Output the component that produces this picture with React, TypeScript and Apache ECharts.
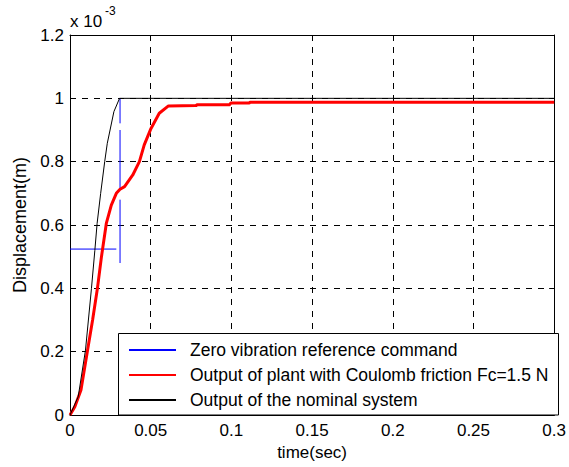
import React, { useEffect, useRef } from "react";
import * as echarts from "echarts";

const xTicks = { min: 0, max: 0.3, interval: 0.05 };
const yTicks = { min: 0, max: 1.2, interval: 0.2 };

const seriesNames = [
  "Zero vibration reference command",
  "Output of plant with Coulomb friction Fc=1.5 N",
  "Output of the nominal system",
];

// blue reference command segments (visible parts)
const blueH = [[0, 0.524], [0.0287, 0.524]];
const blueV1 = [[0.031, 0.48], [0.031, 0.68]];
const blueV2 = [[0.031, 0.716], [0.031, 0.9]];
const blueV3 = [[0.031, 0.921], [0.031, 1.0]];

const redData = [
  [0, 0], [0.003, 0.026], [0.0068, 0.079], [0.0109, 0.205], [0.014, 0.3], [0.017, 0.4],
  [0.0195, 0.5], [0.0225, 0.605], [0.0256, 0.663], [0.0287, 0.7], [0.031, 0.713],
  [0.0338, 0.721], [0.0389, 0.758], [0.043, 0.8], [0.046, 0.853], [0.0502, 0.905],
  [0.0553, 0.953], [0.061, 0.976], [0.078, 0.977], [0.079, 0.98], [0.099, 0.98],
  [0.0995, 0.985], [0.111, 0.985], [0.1116, 0.988], [0.3, 0.988],
];

const blackData = [
  [0, 0], [0.0051, 0.058], [0.0096, 0.205], [0.0133, 0.4], [0.0154, 0.52], [0.0168, 0.605],
  [0.019, 0.7], [0.0215, 0.8], [0.0231, 0.858], [0.0272, 0.958], [0.0307, 1.0], [0.3, 1.0],
];

const FONT = "'Liberation Sans', Arial, sans-serif";

export default function App() {
  const ref = useRef<HTMLDivElement>(null);
  useEffect(() => {
    if (!ref.current) return;
    const chart = echarts.init(ref.current, undefined, { renderer: "svg" });
    const fmt = (v: number) => String(+(+v).toFixed(4));
    const gridLine = { show: true, lineStyle: { color: "#000", width: 1, type: [6, 6] as any } };
    const blueStyle = { color: "#0000ff", width: 1 };
    const blueSeries = (d: number[][]) => ({
      type: "line", name: seriesNames[0], data: d, symbol: "none", showSymbol: false,
      lineStyle: blueStyle, itemStyle: { color: "#0000ff" }, silent: true,
    });
    chart.setOption({
      animation: false,
      backgroundColor: "#fff",
      textStyle: { fontFamily: FONT },
      grid: { left: 70, right: 11, top: 35, bottom: 52, containLabel: false },
      xAxis: [
        {
          type: "value", ...xTicks, position: "bottom",
          name: "time(sec)", nameLocation: "middle", nameGap: 28,
          nameTextStyle: { fontSize: 17, color: "#000", fontFamily: FONT },
          axisLine: { show: true, onZero: false, lineStyle: { color: "#000", width: 1 } },
          axisTick: { show: true, inside: true, length: 5, lineStyle: { color: "#000" } },
          axisLabel: { fontSize: 17, color: "#000", margin: 7, formatter: fmt, fontFamily: FONT },
          splitLine: gridLine,
        },
        {
          type: "value", ...xTicks, position: "top",
          axisLine: { show: true, onZero: false, lineStyle: { color: "#000", width: 1 } },
          axisTick: { show: true, inside: true, length: 5, lineStyle: { color: "#000" } },
          axisLabel: { show: false }, splitLine: { show: false },
        },
      ],
      yAxis: [
        {
          type: "value", ...yTicks, position: "left",
          name: "Displacement(m)", nameLocation: "middle", nameGap: 40,
          nameTextStyle: { fontSize: 18, color: "#000", fontFamily: FONT },
          axisLine: { show: true, onZero: false, lineStyle: { color: "#000", width: 1 } },
          axisTick: { show: true, inside: true, length: 5, lineStyle: { color: "#000" } },
          axisLabel: { fontSize: 17, color: "#000", margin: 6, formatter: fmt, fontFamily: FONT },
          splitLine: gridLine,
        },
        {
          type: "value", ...yTicks, position: "right",
          axisLine: { show: true, onZero: false, lineStyle: { color: "#000", width: 1 } },
          axisTick: { show: true, inside: true, length: 5, lineStyle: { color: "#000" } },
          axisLabel: { show: false }, splitLine: { show: false },
        },
      ],
      legend: {
        orient: "vertical", left: 118, top: 333, z: 10,
        padding: [8, 0, 0, 10], itemWidth: 47, itemHeight: 14, itemGap: 7,
        data: seriesNames, selectedMode: false,
        itemStyle: { opacity: 0 },
        textStyle: { fontSize: 17.5, color: "#000", fontFamily: FONT, padding: [0, 0, 0, 9] },
      },
      graphic: [
        {
          type: "rect", z: 5,
          shape: { x: 118.5, y: 333.5, width: 440, height: 81.5 },
          style: { fill: "#fff", stroke: "#000", lineWidth: 1 },
        },
        {
          type: "text", x: 70, y: 13, z: 5,
          style: { text: "x 10", fontSize: 17, fill: "#000", font: `17px ${FONT}` },
        },
        {
          type: "text", x: 105, y: 5, z: 5,
          style: { text: "-3", fontSize: 12, fill: "#000", font: `12px ${FONT}` },
        },
      ],
      series: [
        blueSeries(blueH), blueSeries(blueV1), blueSeries(blueV2), blueSeries(blueV3),
        {
          type: "line", name: seriesNames[1], data: redData, symbol: "none", showSymbol: false,
          lineStyle: { color: "#ff0000", width: 3 }, itemStyle: { color: "#ff0000" },
        },
        {
          type: "line", name: seriesNames[2], data: blackData, symbol: "none", showSymbol: false,
          lineStyle: { color: "#000", width: 1 }, itemStyle: { color: "#000" },
        },
      ],
    });
    return () => chart.dispose();
  }, []);
  return (
    <div
      ref={ref}
      style={{ position: "fixed", left: 0, top: 0, width: 569, height: 467, background: "#fff" }}
    />
  );
}
